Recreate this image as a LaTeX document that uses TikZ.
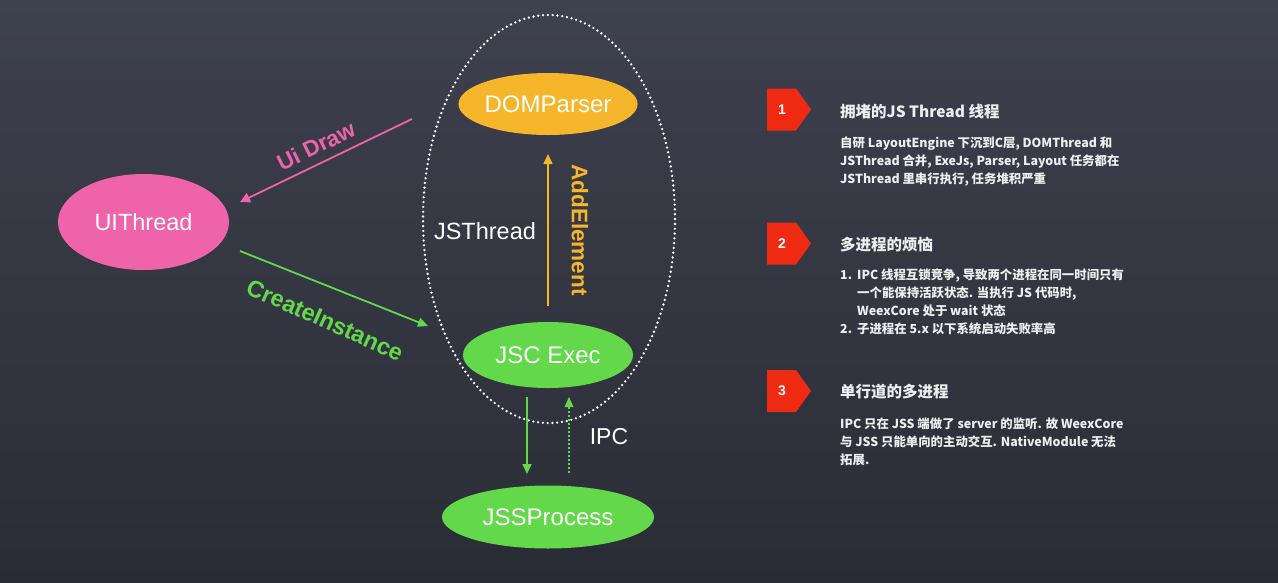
\documentclass[tikz,border=0pt]{standalone}
\usepackage{fontspec}
\setmainfont{Liberation Sans}
\newfontfamily\cjk{Noto Sans CJK SC}
\usetikzlibrary{shapes.geometric,arrows.meta}
\definecolor{bgtop}{HTML}{3E414E}
\definecolor{bgbot}{HTML}{2A2C35}
\definecolor{pinkc}{HTML}{EE63A9}
\definecolor{orangec}{HTML}{F6B62C}
\definecolor{greenc}{HTML}{63D84A}
\definecolor{redc}{HTML}{EE2A13}
\definecolor{txtc}{HTML}{EEEEEE}
\tikzset{
  blob/.style={ellipse, inner sep=0pt, text=white, font=\fontsize{24}{28}\selectfont},
  lbl/.style={text=white, font=\fontsize{23.5}{28}\selectfont, inner sep=0pt},
  albl/.style={font=\bfseries\fontsize{22.5}{26}\selectfont, inner sep=0pt},
  conn/.style={line width=1.8pt, -{Triangle[length=10pt,width=9pt]}},
  badge/.style={fill=redc, draw=none},
  badgenum/.style={text=white, font=\bfseries\fontsize{14}{18}\selectfont, inner sep=0pt},
  ttl/.style={anchor=west, text=txtc, inner sep=0pt, font=\cjk\bfseries\fontsize{15.5}{19}\selectfont},
  body/.style={anchor=north west, align=left, text=txtc, inner sep=0pt, font=\cjk\bfseries\fontsize{12.4}{18}\selectfont},
}
\begin{document}
\begin{tikzpicture}[x=1pt,y=-1pt]
\shade[top color=bgtop, bottom color=bgbot] (0,0) rectangle (1278,582);
\useasboundingbox (0,0) rectangle (1278,582);
% dotted container
\draw[white, line width=2.6pt, line cap=round, dash pattern=on 0pt off 4.8pt] (549,219) ellipse [x radius=126pt, y radius=204pt];
% nodes
\node[blob, fill=orangec, minimum width=171pt, minimum height=62pt] (dom) at (548,104) {DOMParser};
\node[blob, fill=greenc, minimum width=170pt, minimum height=66pt] (jsc) at (548,355) {JSC Exec};
\node[blob, fill=greenc, minimum width=212pt, minimum height=63pt] (jss) at (548,517) {JSSProcess};
\node[blob, fill=pinkc, minimum width=171pt, minimum height=96pt, font=\fontsize{23.5}{28}\selectfont] (ui) at (143.5,222) {UIThread};
\node[lbl] (jst) at (485,231) {JSThread};
\node[lbl, font=\fontsize{23}{28}\selectfont] (ipc) at (609,437) {IPC};
% connector end points
\coordinate (udA) at (412,119);
\coordinate (udB) at (240,202);
\coordinate (ciA) at (240,251);
\coordinate (ciB) at (428,326);
\coordinate (aeA) at (548,306);
\coordinate (aeB) at (548,154);
\coordinate (dnA) at (527,397);
\coordinate (dnB) at (527,474);
\coordinate (upA) at (569,473);
\coordinate (upC) at (569,406);
\coordinate (upB) at (569,397);
% connectors
\draw[conn, draw=pinkc, -{Triangle[length=10pt,width=10pt]}, fill=pinkc] (udA) -- (udB);
\draw[conn, draw=greenc, fill=greenc] (ciA) -- (ciB);
\draw[conn, draw=orangec, fill=orangec, line width=1.6pt] (aeA) -- (aeB);
\draw[conn, draw=greenc, fill=greenc, line width=1.6pt] (dnA) -- (dnB);
\draw[greenc, line width=1.6pt, dash pattern=on 2pt off 2pt] (upA) -- (upC);
\fill[greenc] (upB) -- ++(-4.5,10) -- ++(9,0) -- cycle;
% arrow labels
\node[albl, text=pinkc, rotate=26] (udl) at (316,146) {Ui Draw};
\node[albl, text=greenc, rotate=-24, font=\bfseries\fontsize{23.5}{26}\selectfont] (cil) at (325,320) {CreateInstance};
\node[albl, text=orangec, rotate=-90] (ael) at (580,230) {AddElement};
% right side badges
\foreach \n/\y in {1/109.5, 2/243.5, 3/391}{
  \fill[badge] (767,\y-21) -- (796,\y-21) -- (811,\y) -- (796,\y+21) -- (767,\y+21) -- cycle;
  \node[badgenum] (b\n) at (782,\y) {\n};
}
\node[ttl] (t1) at (840,111.5) {拥堵的JS Thread 线程};
\node[body] (p1) at (840,136.5) {自研 LayoutEngine 下沉到C层, DOMThread 和\\JSThread 合并,  ExeJs, Parser, Layout 任务都在\\JSThread 里串行执行, 任务堆积严重};
\node[ttl] (t2) at (840,245) {多进程的烦恼};
\node[body] (p2) at (840,269) {\makebox[17pt][l]{1.}IPC 线程互锁竞争, 导致两个进程在同一时间只有\\\hspace*{17pt}一个能保持活跃状态. 当执行 JS 代码时,\\\hspace*{17pt}WeexCore 处于 wait 状态\\\makebox[17pt][l]{2.}子进程在 5.x 以下系统启动失败率高};
\node[ttl] (t3) at (840,392) {单行道的多进程};
\node[body] (p3) at (840,417.5) {IPC 只在 JSS 端做了 server 的监听. 故 WeexCore\\与 JSS 只能单向的主动交互.  NativeModule 无法\\拓展.};
\end{tikzpicture}
\end{document}
